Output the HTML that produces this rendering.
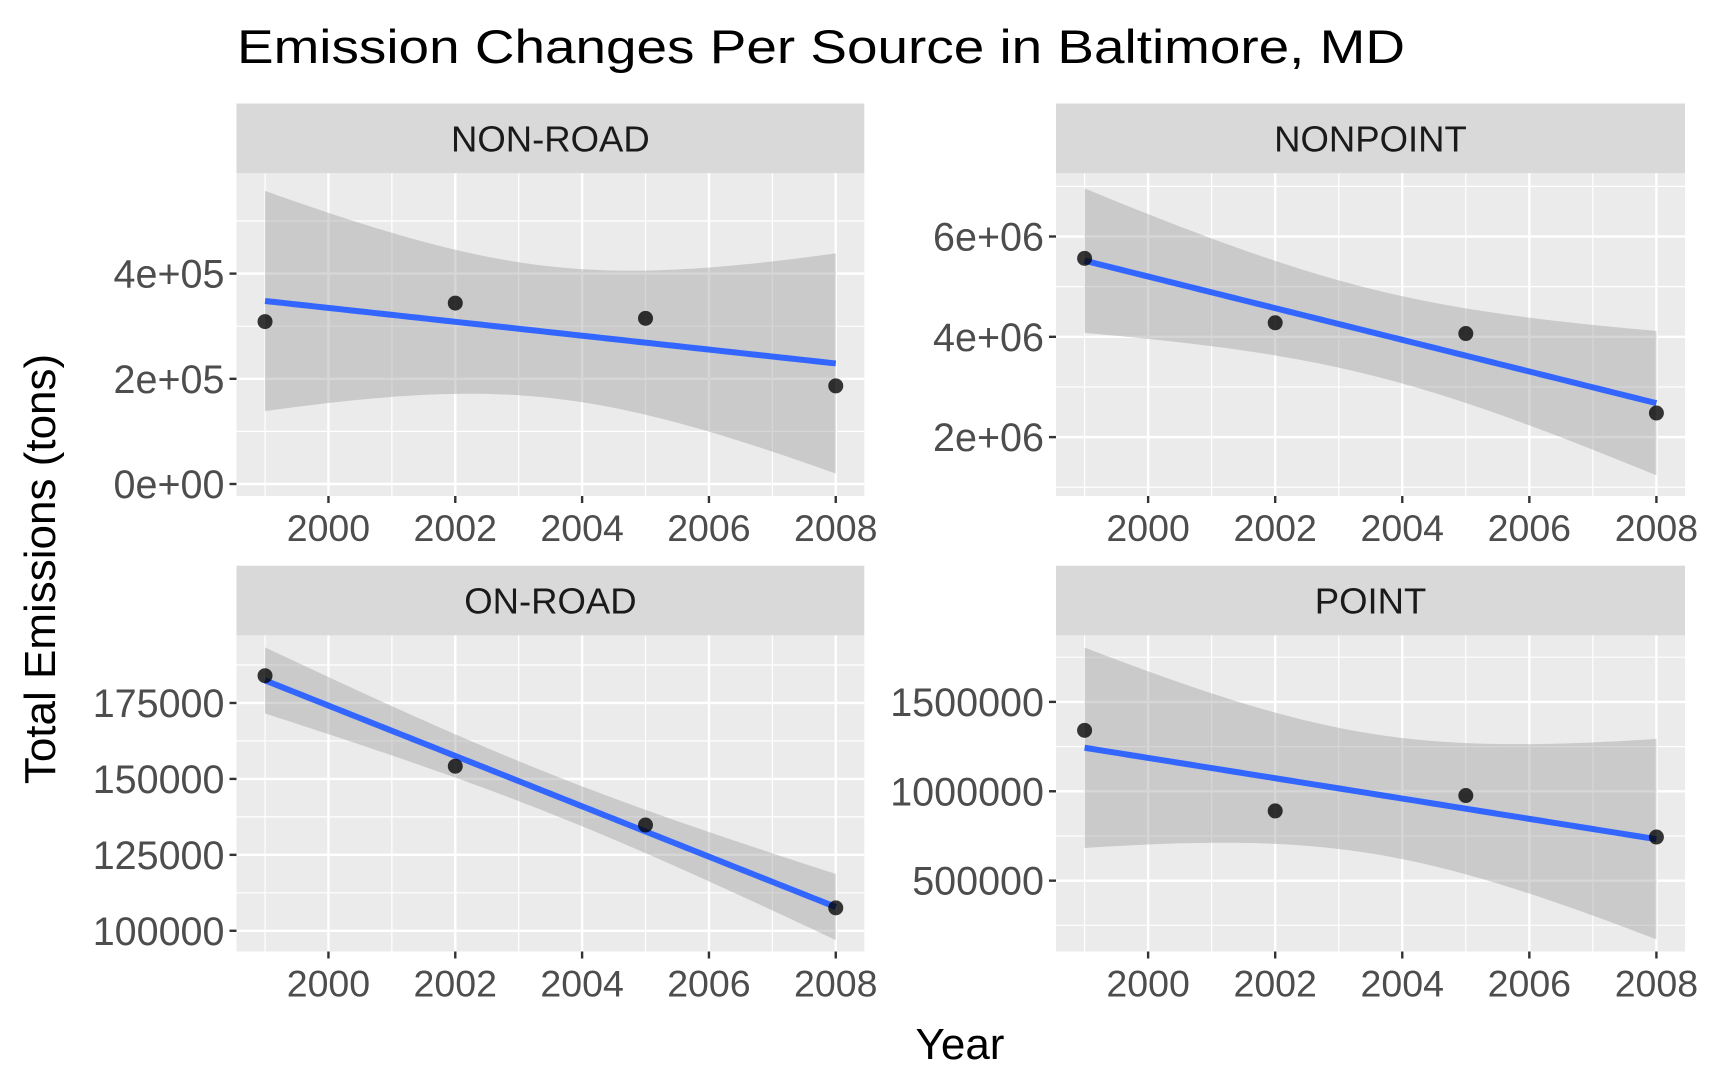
<!DOCTYPE html>
<html><head><meta charset="utf-8">
<style>
html,body{margin:0;padding:0;background:#fff;}
svg{display:block;font-family:"Liberation Sans",Arial,sans-serif;}
</style></head>
<body>
<svg id="chart" width="1709" height="1081" viewBox="0 0 1709 1081" xmlns="http://www.w3.org/2000/svg">
<rect width="1709" height="1081" fill="#fff"/>
<text x="237" y="63" font-size="47" fill="#000" textLength="1168" lengthAdjust="spacingAndGlyphs">Emission Changes Per Source in Baltimore, MD</text>
<text x="0" y="0" font-size="44" fill="#000" text-anchor="middle" transform="translate(55,569) rotate(-90)">Total Emissions (tons)</text>
<text x="960" y="1059" font-size="44" fill="#000" text-anchor="middle">Year</text>
<g id="panels"></g>
</svg>
<script>
const years = [1999, 2002, 2005, 2008];
const nonRoad = [308800, 344000, 315000, 186500];
const nonPoint = [5565000, 4280000, 4065000, 2480000];
const onRoad = [183970, 154190, 134810, 107540];
const pointSrc = [1341000, 890000, 976000, 744000];
const panelNames = ["NON-ROAD", "NONPOINT", "ON-ROAD", "POINT"];
const xTicks = [2000, 2002, 2004, 2006, 2008];
const yTicksNonRoad = [0, 200000, 400000];
const yLabelsNonRoad = ["0e+00", "2e+05", "4e+05"];
const yTicksNonPoint = [2000000, 4000000, 6000000];
const yLabelsNonPoint = ["2e+06", "4e+06", "6e+06"];
const yTicksOnRoad = [100000, 125000, 150000, 175000];
const yLabelsOnRoad = ["100000", "125000", "150000", "175000"];
const yTicksPoint = [500000, 1000000, 1500000];
const yLabelsPoint = ["500000", "1000000", "1500000"];

const NS = "http://www.w3.org/2000/svg";
const root = document.getElementById("panels");
function mk(tag, attrs, parent) {
  const e = document.createElementNS(NS, tag);
  for (const k in attrs) e.setAttribute(k, attrs[k]);
  (parent || root).appendChild(e);
  return e;
}
const panels = [
  {name: panelNames[0], vals: nonRoad, yt: yTicksNonRoad, yl: yLabelsNonRoad, ymin: -22800, ymax: 590700, x0: 236.5, x1: 864.3, st: 103.5, pt: 173.3, pb: 496},
  {name: panelNames[1], vals: nonPoint, yt: yTicksNonPoint, yl: yLabelsNonPoint, ymin: 826000, ymax: 7260000, x0: 1056, x1: 1685, st: 103.5, pt: 173.3, pb: 496},
  {name: panelNames[2], vals: onRoad, yt: yTicksOnRoad, yl: yLabelsOnRoad, ymin: 93180, ymax: 197250, x0: 236.5, x1: 864.3, st: 565.7, pt: 635.4, pb: 951.5},
  {name: panelNames[3], vals: pointSrc, yt: yTicksPoint, yl: yLabelsPoint, ymin: 103600, ymax: 1872000, x0: 1056, x1: 1685, st: 565.7, pt: 635.4, pb: 951.5}
];
panels.forEach((p, pi) => {
  const g = mk("g", {});
  
  
  const xmin = 1999 - 0.45, xmax = 2008 + 0.45;
  const X = v => p.x0 + (v - xmin) / (xmax - xmin) * (p.x1 - p.x0);
  const Y = v => p.pb - (v - p.ymin) / (p.ymax - p.ymin) * (p.pb - p.pt);
  const strip = mk("rect", {x: p.x0, y: p.st, width: p.x1 - p.x0, height: p.pt - p.st, fill: "#D9D9D9"}, g);
  
  
  const st = mk("text", {x: (p.x0 + p.x1) / 2, y: (p.st + p.pt) / 2 + 13, "font-size": 36.5, fill: "#1A1A1A", "text-anchor": "middle"}, g);
  st.textContent = p.name;
  
  
  const bg = mk("rect", {x: p.x0, y: p.pt, width: p.x1 - p.x0, height: p.pb - p.pt, fill: "#EBEBEB"}, g);
  
  
  const step = p.yt[1] - p.yt[0];
  for (let v = p.yt[0] - step * 1.5; v <= p.ymax; v += step) {
    if (v < p.ymin) continue;
    mk("line", {x1: p.x0, x2: p.x1, y1: Y(v), y2: Y(v), stroke: "#fff", "stroke-width": 1.2}, g);
  }
  for (let v = 1999; v <= 2008; v += 2) mk("line", {x1: X(v), x2: X(v), y1: p.pt, y2: p.pb, stroke: "#fff", "stroke-width": 1.2}, g);
  p.yt.forEach(v => mk("line", {x1: p.x0, x2: p.x1, y1: Y(v), y2: Y(v), stroke: "#fff", "stroke-width": 2.4}, g));
  xTicks.forEach(v => mk("line", {x1: X(v), x2: X(v), y1: p.pt, y2: p.pb, stroke: "#fff", "stroke-width": 2.4}, g));
  const n = years.length;
  const mx = years.reduce((a, b) => a + b) / n, my = p.vals.reduce((a, b) => a + b) / n;
  let sxx = 0, sxy = 0;
  years.forEach((x, i) => { sxx += (x - mx) ** 2; sxy += (x - mx) * (p.vals[i] - my); });
  const b = sxy / sxx, a = my - b * mx;
  let sse = 0;
  years.forEach((x, i) => { sse += (p.vals[i] - a - b * x) ** 2; });
  const s = Math.sqrt(sse / (n - 2)), t = 4.302653;
  const up = [], lo = [], fit = [];
  for (let k = 0; k <= 80; k++) {
    const x = 1999 + 9 * k / 80;
    const f = a + b * x;
    const se = s * Math.sqrt(1 / n + (x - mx) ** 2 / sxx);
    fit.push(X(x) + "," + Y(f));
    up.push(X(x) + "," + Y(Math.min(f + t * se, p.ymax + (p.ymax - p.ymin))));
    lo.push(X(x) + "," + Y(f - t * se));
  }
  const clip = mk("clipPath", {id: "clip" + pi}, g);
  mk("rect", {x: p.x0, y: p.pt, width: p.x1 - p.x0, height: p.pb - p.pt}, clip);
  const band = mk("polygon", {points: up.concat(lo.reverse()).join(" "), fill: "#999999", "fill-opacity": 0.4, "clip-path": "url(#clip" + pi + ")"}, g);
  
  
  const line = mk("polyline", {points: fit.join(" "), fill: "none", stroke: "#3366FF", "stroke-width": 6}, g);
  
  
  years.forEach((yr, i) => {
    const c = mk("circle", {cx: X(yr), cy: Y(p.vals[i]), r: 7.5, fill: "#000", "fill-opacity": 0.78}, g);
    
    
  });
  p.yt.forEach((v, i) => {
    mk("line", {x1: p.x0 - 7, x2: p.x0, y1: Y(v), y2: Y(v), stroke: "#333", "stroke-width": 2.4}, g);
    const tx = mk("text", {x: p.x0 - 12, y: Y(v) + 14, "font-size": 39.5, fill: "#4D4D4D", "text-anchor": "end"}, g);
    tx.textContent = p.yl[i];
    
    
  });
  xTicks.forEach(v => {
    mk("line", {x1: X(v), x2: X(v), y1: p.pb, y2: p.pb + 7, stroke: "#333", "stroke-width": 2.4}, g);
    const tx = mk("text", {x: X(v), y: p.pb + 45, "font-size": 37.5, fill: "#4D4D4D", "text-anchor": "middle"}, g);
    tx.textContent = v;
    
    
  });
});
</script>
</body></html>
